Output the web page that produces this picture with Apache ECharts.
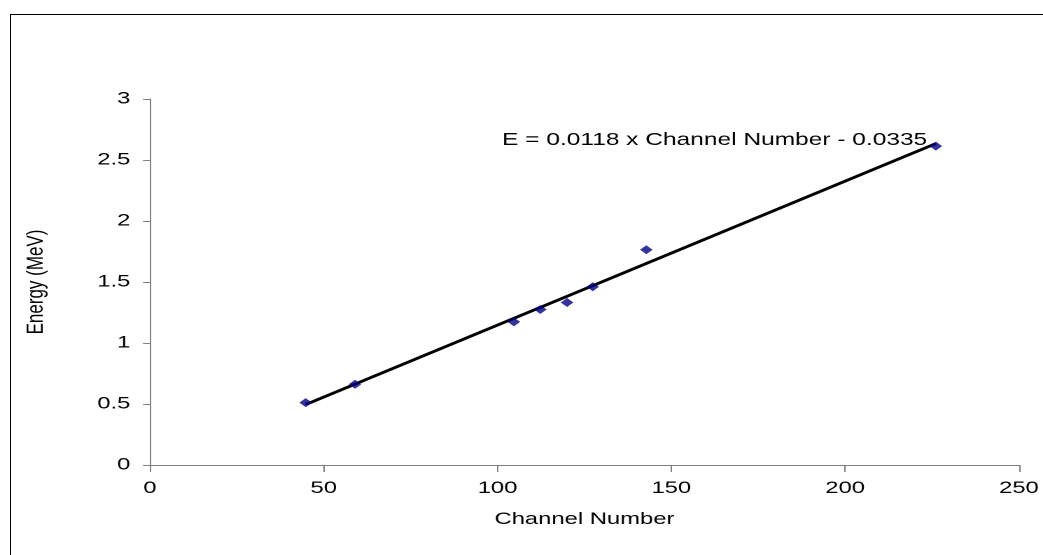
<!DOCTYPE html>
<html>
<head>
<meta charset="utf-8">
<script src="https://cdn.jsdelivr.net/npm/echarts@6/dist/echarts.min.js"></script>
<style>
html,body{margin:0;padding:0;background:#fff;overflow:hidden;width:1043px;height:555px;}
#root{position:relative;width:1043px;height:555px;overflow:hidden;}
#frame{position:absolute;left:10px;top:14px;width:1033px;height:541px;border-left:1px solid #000;border-top:1px solid #000;box-sizing:border-box;}
#chart{position:absolute;left:0;top:0;width:745px;height:555px;transform:scaleX(1.4);transform-origin:0 0;}
</style>
</head>
<body>
<div id="root">
<div id="frame"></div>
<div id="chart"></div>
</div>
<script>
const channels = [44.8, 59.0, 104.7, 112.3, 120.0, 127.4, 142.8, 226.1];
const energies = [0.511, 0.662, 1.173, 1.275, 1.332, 1.461, 1.764, 2.614];
const fitSlope = 0.0118;
const fitIntercept = -0.0335;
const equationText = 'E = 0.0118 x Channel Number - 0.0335';
const xTicks = [0, 50, 100, 150, 200, 250];
const yTicks = [0, 0.5, 1, 1.5, 2, 2.5, 3];

const points = channels.map((c, i) => [c, energies[i]]);
const xMin = Math.min(...channels), xMax = Math.max(...channels);
const fitLine = [[xMin, fitSlope * xMin + fitIntercept], [xMax, fitSlope * xMax + fitIntercept]];

const chart = echarts.init(document.getElementById('chart'), null, {renderer: 'canvas', devicePixelRatio: 2, width: 745, height: 555});
const font = 'Liberation Sans, Arial, sans-serif';
chart.setOption({
  animation: false,
  backgroundColor: 'transparent',
  grid: {left: 107.1, right: 9, top: 99, bottom: 90},
  xAxis: {
    type: 'value', min: xTicks[0], max: xTicks[xTicks.length - 1], interval: xTicks[1] - xTicks[0],
    name: 'Channel Number', nameLocation: 'middle', nameGap: 46,
    nameTextStyle: {color: '#000', fontSize: 17, fontFamily: font},
    axisLine: {show: true, lineStyle: {color: '#808080', width: 1}},
    axisTick: {show: true, length: 7, lineStyle: {color: '#808080'}},
    axisLabel: {color: '#000', fontSize: 17, fontFamily: font, margin: 15},
    splitLine: {show: false}
  },
  yAxis: {
    type: 'value', min: yTicks[0], max: yTicks[yTicks.length - 1], interval: yTicks[1] - yTicks[0],
    name: 'Energy (MeV)', nameLocation: 'middle', nameGap: 73,
    nameTextStyle: {color: '#000', fontSize: 17, fontFamily: font},
    axisLine: {show: true, lineStyle: {color: '#808080', width: 1}},
    axisTick: {show: true, length: 5, lineStyle: {color: '#808080'}},
    axisLabel: {color: '#000', fontSize: 17, fontFamily: font, margin: 14},
    splitLine: {show: false}
  },
  series: [
    {
      type: 'line', data: fitLine, showSymbol: false, symbol: 'none',
      lineStyle: {color: '#000', width: 2.8}, z: 2
    },
    {
      type: 'scatter', data: points, symbol: 'diamond', symbolSize: 9,
      itemStyle: {color: '#000080'}, z: 3
    }
  ],
  graphic: [{
    type: 'text', left: 358.6, top: 131,
    style: {text: equationText, fill: '#000', fontSize: 17.5, fontFamily: font}
  }]
});
</script>
</body>
</html>
